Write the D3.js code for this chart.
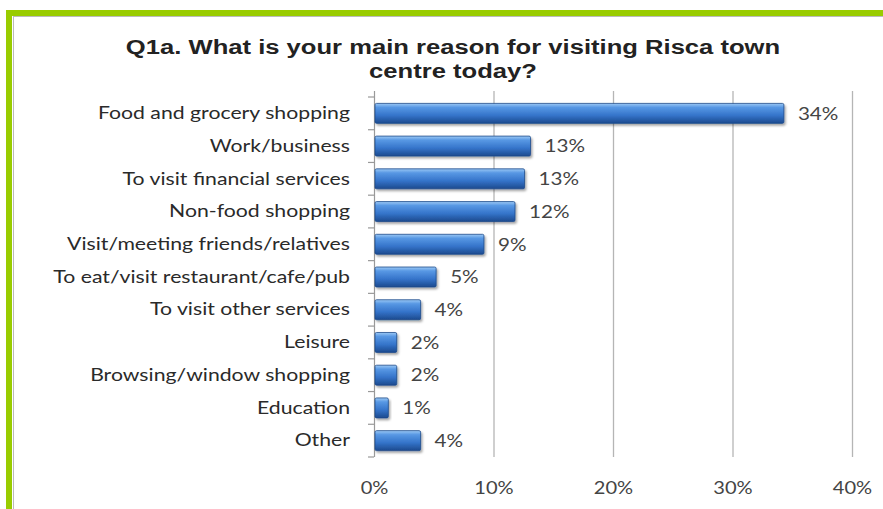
<!DOCTYPE html>
<html>
<head>
<meta charset="utf-8">
<script src="https://cdn.jsdelivr.net/npm/d3@7"></script>
<style>
  body { margin: 0; background: #fff; }
  svg { display: block; }
</style>
</head>
<body>
<div id="chart"></div>
<script>
var width = 883;
var height = 509;

var categories = [
    "Food and grocery shopping",
    "Work/business",
    "To visit financial services",
    "Non-food shopping",
    "Visit/meeting friends/relatives",
    "To eat/visit restaurant/cafe/pub",
    "To visit other services",
    "Leisure",
    "Browsing/window shopping",
    "Education",
    "Other"
];
// bar lengths (percent) as drawn, and the labels shown beside them
var values = [34.3, 13.1, 12.6, 11.8, 9.2, 5.2, 3.9, 1.9, 1.9, 1.2, 3.9];
var valueLabels = ["34%", "13%", "13%", "12%", "9%", "5%", "4%", "2%", "2%", "1%", "4%"];
var xTicks = [0, 10, 20, 30, 40];
var titleLines = ["Q1a. What is your main reason for visiting Risca town", "centre today?"];

var plotLeft = 374, plotRight = 852, plotTop = 91, bandTop = 97, plotBottom = 457;
var stretch = 1.18;   // the source text is drawn wide
var labelFont = "Lato, 'Open Sans', sans-serif";

var svg = d3.select("#chart").append("svg")
    .attr("width", width)
    .attr("height", height);

var defs = svg.append("defs");
var grad = defs.append("linearGradient")
    .attr("id", "barGrad")
    .attr("x1", 0).attr("y1", 0).attr("x2", 0).attr("y2", 1);
grad.append("stop").attr("offset", "0%").attr("stop-color", "#9cc9f5");
grad.append("stop").attr("offset", "20%").attr("stop-color", "#5898e4");
grad.append("stop").attr("offset", "60%").attr("stop-color", "#3574ca");
grad.append("stop").attr("offset", "100%").attr("stop-color", "#1c4a8e");

var shadow = defs.append("filter").attr("id", "shadow")
    .attr("x", "-10%").attr("y", "-20%").attr("width", "130%").attr("height", "160%");
shadow.append("feDropShadow")
    .attr("dx", 1.5).attr("dy", 2).attr("stdDeviation", 1.2)
    .attr("flood-color", "#000").attr("flood-opacity", 0.35);

// frame
svg.append("rect")
    .attr("x", 9).attr("y", 13)
    .attr("width", width + 20).attr("height", height + 20)
    .attr("fill", "none")
    .attr("stroke", "#99cc00")
    .attr("stroke-width", 6);
svg.append("rect")
    .attr("x", 13.5).attr("y", 16.5)
    .attr("width", width).attr("height", height)
    .attr("fill", "none")
    .attr("stroke", "#bbbbbb")
    .attr("stroke-width", 1);

// title
svg.append("g")
    .selectAll("text")
    .data(titleLines).enter().append("text")
    .attr("transform", function (d, i) {
        return "translate(453," + (54 + i * 24) + ") scale(1.28,1)";
    })
    .attr("text-anchor", "middle")
    .style("font-family", "'Liberation Sans', Arial, sans-serif")
    .style("font-weight", "bold")
    .style("font-size", "20px")
    .attr("fill", "#222")
    .text(function (d) { return d; });

var xScale = d3.scaleLinear()
    .domain([0, 40])
    .range([plotLeft, plotRight]);

var yScale = d3.scaleBand()
    .domain(categories)
    .range([bandTop, plotBottom])
    .paddingInner(0.39)
    .paddingOuter(0.195);

// gridlines
svg.append("g")
    .selectAll("line")
    .data(xTicks.slice(1)).enter().append("line")
    .attr("x1", function (d) { return xScale(d) + 0.5; })
    .attr("x2", function (d) { return xScale(d) + 0.5; })
    .attr("y1", plotTop)
    .attr("y2", plotBottom)
    .attr("stroke", "#b5b5b5")
    .attr("stroke-width", 1.3);

// x axis labels
var xAxis = d3.axisBottom(xScale)
    .tickValues(xTicks)
    .tickSize(0)
    .tickPadding(25)
    .tickFormat(function (d) { return d + "%"; });
var xg = svg.append("g")
    .attr("transform", "translate(0," + plotBottom + ")")
    .call(xAxis);
xg.select(".domain").remove();
xg.selectAll("text")
    .style("font-family", labelFont)
    .style("font-size", "17px")
    .attr("fill", "#444")
    .attr("transform", "scale(" + stretch + ",1)");

// y axis: line with ticks between categories
var boundaries = d3.range(categories.length + 1).map(function (i) {
    return bandTop + yScale.step() * i;
});
svg.append("line")
    .attr("x1", plotLeft + 0.5).attr("x2", plotLeft + 0.5)
    .attr("y1", plotTop).attr("y2", plotBottom)
    .attr("stroke", "#999").attr("stroke-width", 1.2);
svg.append("g")
    .selectAll("line")
    .data(boundaries).enter().append("line")
    .attr("x1", plotLeft - 6).attr("x2", plotLeft)
    .attr("y1", function (d) { return d; })
    .attr("y2", function (d) { return d; })
    .attr("stroke", "#999").attr("stroke-width", 1.2);

var yAxis = d3.axisLeft(yScale).tickSize(0).tickPadding(0);
var yg = svg.append("g")
    .attr("transform", "translate(" + plotLeft + ",0)")
    .call(yAxis);
yg.select(".domain").remove();
yg.selectAll("text")
    .attr("x", -24 / stretch)
    .attr("transform", "scale(" + stretch + ",1)")
    .style("font-family", labelFont)
    .style("font-size", "18px")
    .attr("fill", "#2a2a2a");

// bars
var rows = categories.map(function (c, i) {
    return {name: c, value: values[i], label: valueLabels[i]};
});

svg.append("g")
    .selectAll("rect")
    .data(rows).enter().append("rect")
    .attr("x", xScale(0) + 1)
    .attr("y", function (d) { return yScale(d.name); })
    .attr("width", function (d) { return xScale(d.value) - xScale(0) - 1; })
    .attr("height", yScale.bandwidth())
    .attr("rx", 1.5)
    .attr("fill", "url(#barGrad)")
    .attr("stroke", "#1d4a8a")
    .attr("stroke-width", 0.8)
    .attr("filter", "url(#shadow)");

svg.append("g")
    .selectAll("text")
    .data(rows).enter().append("text")
    .attr("transform", function (d) {
        return "translate(" + (xScale(d.value) + 14) + "," +
            (yScale(d.name) + yScale.bandwidth() / 2) + ") scale(" + stretch + ",1)";
    })
    .attr("dy", "0.36em")
    .style("font-family", labelFont)
    .style("font-size", "17.5px")
    .attr("fill", "#444")
    .text(function (d) { return d.label; });
</script>
</body>
</html>
